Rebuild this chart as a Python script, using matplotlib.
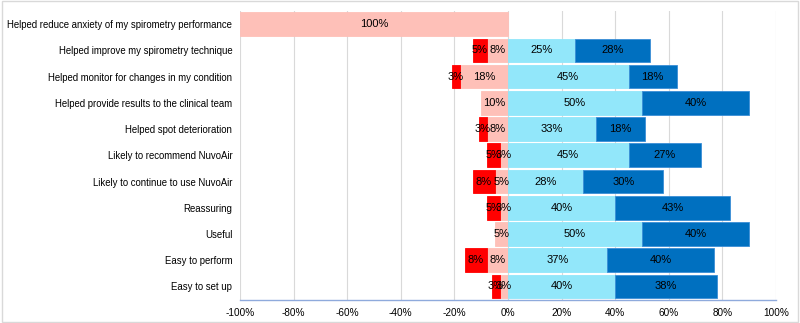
import matplotlib
matplotlib.use("Agg")
import matplotlib.pyplot as plt
from matplotlib.patches import Rectangle
import numpy as np

categories = [
    "Helped reduce anxiety of my spirometry performance",
    "Helped improve my spirometry technique",
    "Helped monitor for changes in my condition",
    "Helped provide results to the clinical team",
    "Helped spot deterioration",
    "Likely to recommend NuvoAir",
    "Likely to continue to use NuvoAir",
    "Reassuring",
    "Useful",
    "Easy to perform",
    "Easy to set up",
]
strongly_disagree = [0, 5, 3, 0, 3, 5, 8, 5, 0, 8, 3]
disagree = [100, 8, 18, 10, 8, 3, 5, 3, 5, 8, 3]
agree = [0, 25, 45, 50, 33, 45, 28, 40, 50, 37, 40]
strongly_agree = [0, 28, 18, 40, 18, 27, 30, 43, 40, 40, 38]

plt.rcParams['font.family'] = ['Liberation Sans', 'DejaVu Sans']

fig = plt.figure(figsize=(8, 3.23), dpi=100)
ax = fig.add_axes([0.30, 0.0725, 0.67, 0.8935])

y = np.arange(len(categories))
sd = np.array(strongly_disagree)
d = np.array(disagree)
a = np.array(agree)
sa = np.array(strongly_agree)

h = 0.9
segs = [
    (-d, d, '#FEC0B8', '#FEC0B8'),
    (-d - sd, sd, '#FF0000', '#FF0000'),
    (np.zeros_like(a), a, '#92E7FA', '#92E7FA'),
    (a, sa, '#0070C0', '#3A8ED6'),
]
for left, width, col, edge in segs:
    keep = width > 0
    ax.barh(y[keep], width[keep], left=left[keep], height=h, color=col,
            edgecolor=edge, linewidth=0.6, zorder=2)
    for yy, l, w in zip(y[keep], left[keep], width[keep]):
        ax.text(l + w / 2, yy, f"{w}%", ha='center', va='center',
                fontsize=8, color='black', zorder=3)

ax.set_xlim(-100, 100)
ax.set_ylim(len(categories) - 0.5, -0.5)
ax.set_yticks(y)
ax.set_yticklabels(categories, fontsize=6.95)
ax.set_xticks(np.arange(-100, 101, 20))
ax.set_xticklabels([f"{v}%" for v in range(-100, 101, 20)], fontsize=7.2)
ax.tick_params(axis='y', length=0, pad=5.5)
ax.tick_params(axis='x', length=0, pad=6)
ax.grid(axis='x', color='#D9D9D9', linewidth=0.8, zorder=0)
for s in ['top', 'right', 'left']:
    ax.spines[s].set_visible(False)
ax.spines['bottom'].set_color('#8FAADC')
ax.spines['bottom'].set_linewidth(1)

fig.patches.append(Rectangle((0.002, 0.003), 0.996, 0.994, transform=fig.transFigure,
                             fill=False, edgecolor='#D9D9D9', linewidth=1))

fig.savefig("out.png", dpi=100)
